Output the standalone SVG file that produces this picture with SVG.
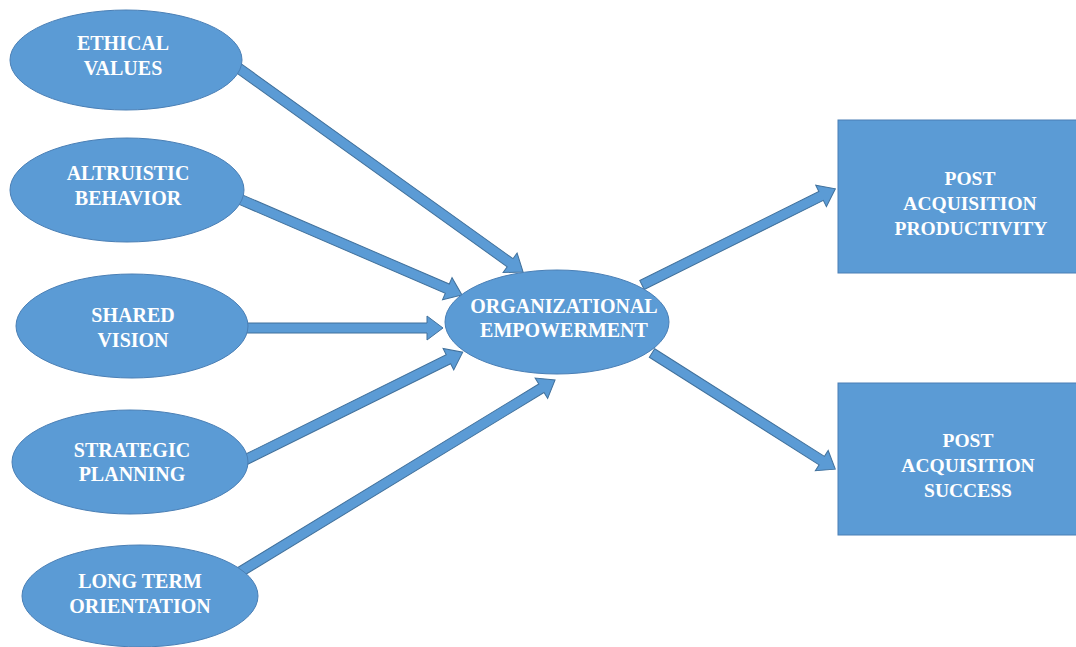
<svg xmlns="http://www.w3.org/2000/svg" width="1076" height="647" viewBox="0 0 1076 647">
  <style>
    .shape { fill: #5b9bd5; stroke: #4a7fb5; stroke-width: 1; }
    .arrow { fill: #5b9bd5; stroke: #41719c; stroke-width: 1; stroke-linejoin: miter; }
    .label { font-family: 'Liberation Serif', 'DejaVu Serif', serif; font-weight: bold; font-size: 20px; fill: #ffffff; text-anchor: middle; }
    .box-label { font-size: 19.5px; }
  </style>
  <rect width="1076" height="647" fill="#ffffff"/>

  <!-- block arrows: drawn along +x from origin, then placed with translate/rotate -->
  <g id="connectors">
    <polygon class="arrow" transform="translate(237,67) rotate(35.63)" points="0,-5 336,-5 336,-12 352,0 336,12 336,5 0,5"/>
    <polygon class="arrow" transform="translate(237,198) rotate(23.32)" points="0,-5 229,-5 229,-12 245,0 229,12 229,5 0,5"/>
    <polygon class="arrow" transform="translate(245,328)" points="0,-5 182,-5 182,-12 198,0 182,12 182,5 0,5"/>
    <polygon class="arrow" transform="translate(245,460) rotate(-26.35)" points="0,-5 227,-5 227,-12 243,0 227,12 227,5 0,5"/>
    <polygon class="arrow" transform="translate(240,572) rotate(-31.37)" points="0,-5 353,-5 353,-12 369,0 353,12 353,5 0,5"/>
    <polygon class="arrow" transform="translate(642,285) rotate(-26.45)" points="0,-5 200,-5 200,-12 216,0 200,12 200,5 0,5"/>
    <polygon class="arrow" transform="translate(652,353) rotate(32.37)" points="0,-5 201,-5 201,-12 217,0 201,12 201,5 0,5"/>
  </g>

  <g id="ethical-values">
    <ellipse class="shape" cx="126" cy="60" rx="116" ry="50"/>
    <text class="label" x="123" y="50">ETHICAL</text>
    <text class="label" x="123" y="75">VALUES</text>
  </g>

  <g id="altruistic-behavior">
    <ellipse class="shape" cx="127" cy="190" rx="117" ry="52"/>
    <text class="label" x="128" y="180">ALTRUISTIC</text>
    <text class="label" x="128" y="205">BEHAVIOR</text>
  </g>

  <g id="shared-vision">
    <ellipse class="shape" cx="132" cy="326" rx="116" ry="52"/>
    <text class="label" x="133" y="322">SHARED</text>
    <text class="label" x="133" y="347">VISION</text>
  </g>

  <g id="strategic-planning">
    <ellipse class="shape" cx="130" cy="462" rx="118" ry="52"/>
    <text class="label" x="132" y="457">STRATEGIC</text>
    <text class="label" x="132" y="481">PLANNING</text>
  </g>

  <g id="long-term-orientation">
    <ellipse class="shape" cx="140" cy="596" rx="118" ry="51"/>
    <text class="label" x="140" y="588">LONG TERM</text>
    <text class="label" x="140" y="613">ORIENTATION</text>
  </g>

  <g id="organizational-empowerment">
    <ellipse class="shape" cx="557" cy="322" rx="112" ry="52"/>
    <text class="label" x="564" y="313">ORGANIZATIONAL</text>
    <text class="label" x="564" y="337">EMPOWERMENT</text>
  </g>

  <g id="post-acquisition-productivity">
    <rect class="shape" x="838" y="120" width="250" height="153"/>
    <text class="label box-label" x="970" y="185">POST</text>
    <text class="label box-label" x="970" y="210">ACQUISITION</text>
    <text class="label box-label" x="971" y="235">PRODUCTIVITY</text>
  </g>

  <g id="post-acquisition-success">
    <rect class="shape" x="838" y="383" width="250" height="152"/>
    <text class="label box-label" x="968" y="447">POST</text>
    <text class="label box-label" x="968" y="472">ACQUISITION</text>
    <text class="label box-label" x="968" y="497">SUCCESS</text>
  </g>
</svg>
